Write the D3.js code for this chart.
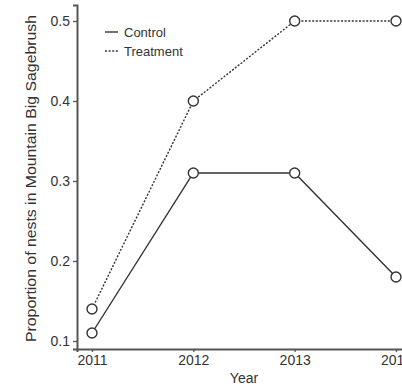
<!DOCTYPE html>
<html><head><meta charset="utf-8">
<script src="https://cdn.jsdelivr.net/npm/d3@7"></script>
<style>body{margin:0;background:#fff}svg{display:block}text{font-family:"Liberation Sans",Arial,sans-serif;fill:#333}</style>
</head><body><svg id="c" width="402" height="386"></svg>
<script>
const years = [2011, 2012, 2013, 2014];
const control = [0.11, 0.31, 0.31, 0.18];
const treatment = [0.14, 0.40, 0.50, 0.50];
const yTicks = [0.1, 0.2, 0.3, 0.4, 0.5];
const seriesNames = ["Control", "Treatment"];

const svg = d3.select("#c");
const x = d3.scaleLinear().domain([2010.852, 2014.148]).range([77, 411]);
const y = d3.scaleLinear().domain([0.09, 0.52]).range([349, 5]);

// axes
const ya = svg.append("g").attr("transform","translate(77,0)")
  .call(d3.axisLeft(y).tickValues(yTicks).tickFormat(d3.format(".1f")).tickSize(4).tickPadding(3));
const xa = svg.append("g").attr("transform","translate(0,349)")
  .call(d3.axisBottom(x).tickValues(years).tickFormat(d3.format("d")).tickSize(3).tickPadding(3));
[ya, xa].forEach(a => {
  a.select(".domain").attr("stroke","#555").attr("stroke-width",2);
  a.selectAll(".tick line").attr("stroke","#555").attr("stroke-width",1.3);
  a.selectAll("text").attr("font-size",14).attr("fill","#333").attr("font-family","Liberation Sans, Arial, sans-serif");
});

const line = d3.line().x((d,i)=>x(years[i])).y(d=>y(d));
const data = [control, treatment];
const dashes = [null, "2,1.6"];
data.forEach((s,k)=>{
  svg.append("path").datum(s).attr("d", line).attr("fill","none")
    .attr("stroke","#333").attr("stroke-width",1.4).attr("stroke-dasharray", dashes[k]);
});
data.forEach(s=>{
  svg.selectAll(null).data(s).enter().append("circle")
    .attr("cx",(d,i)=>x(years[i])).attr("cy",d=>y(d)).attr("r",5)
    .attr("fill","#fff").attr("stroke","#333").attr("stroke-width",1.4);
});

// legend
seriesNames.forEach((n,k)=>{
  const ly = 32 + k*19;
  svg.append("line").attr("x1",105).attr("x2",118).attr("y1",ly).attr("y2",ly)
    .attr("stroke","#333").attr("stroke-width",1.4).attr("stroke-dasharray", dashes[k]);
  svg.append("text").attr("x",124).attr("y",ly+4.5).attr("font-size",13).text(n);
});

// titles
svg.append("text").attr("x",244).attr("y",383).attr("text-anchor","middle").attr("font-size",14).text("Year");
svg.append("text").attr("transform","translate(36,178.5) rotate(-90)").attr("text-anchor","middle")
  .attr("font-size",14).attr("textLength",327).attr("lengthAdjust","spacingAndGlyphs")
  .text("Proportion of nests in Mountain Big Sagebrush");
</script></body></html>
